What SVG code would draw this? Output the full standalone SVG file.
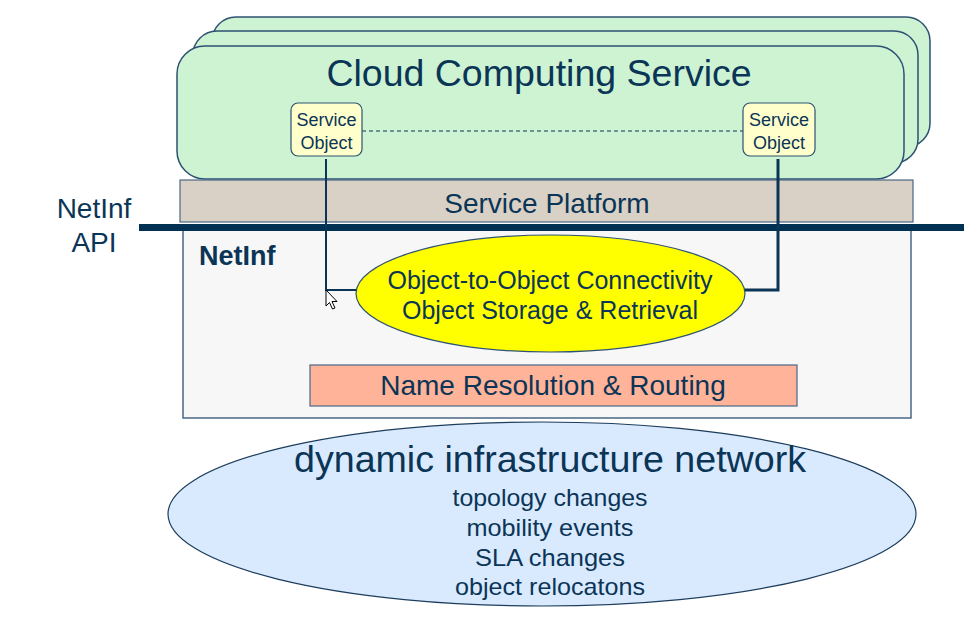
<svg xmlns="http://www.w3.org/2000/svg" width="968" height="626" viewBox="0 0 968 626">
<style>
text{font-family:"Liberation Sans",Arial,sans-serif;fill:#0b3556;text-anchor:middle}
.cloud{fill:#cdf3d3;stroke:#2e5273;stroke-width:1.5}
.so{fill:#ffffcc;stroke:#2e5273;stroke-width:1.2}
.conn{fill:none;stroke:#0b3556}
</style>
<rect width="968" height="626" fill="#ffffff"/>
<g id="cloud-stack">
<rect class="cloud" x="212" y="17" width="718" height="130" rx="24"/>
<rect class="cloud" x="193" y="31" width="725" height="132" rx="24"/>
<rect class="cloud" x="177" y="46" width="727" height="133" rx="28"/>
<text x="539" y="86" font-size="37.5">Cloud Computing Service</text>
</g>
<g id="service-platform">
<rect x="180" y="180" width="733" height="42" fill="#d9d1c5" stroke="#4a6785" stroke-width="1.2"/>
<text x="547" y="213" font-size="28">Service Platform</text>
</g>
<g id="netinf">
<rect x="183" y="228" width="728" height="190" fill="#f7f7f7" stroke="#4a6785" stroke-width="1.5"/>
<text x="199" y="265" font-size="27" font-weight="bold" style="text-anchor:start">NetInf</text>
</g>
<g id="api-line">
<line x1="139" y1="227.5" x2="964" y2="227.5" stroke="#003153" stroke-width="7"/>
<text x="94" y="218" font-size="28">NetInf</text>
<text x="94" y="252" font-size="28">API</text>
</g>
<g id="connectors">
<line x1="362" y1="131" x2="743" y2="131" stroke="#0b3556" stroke-width="1" stroke-dasharray="4,3"/>
<polyline class="conn" stroke-width="2" points="326,159 326,290 357,290"/>
<polyline class="conn" stroke-width="3" points="778,159 778,290 745,290"/>
</g>
<g id="service-object-left">
<rect class="so" x="291" y="103" width="71" height="53" rx="7"/>
<text x="326.5" y="126" font-size="18">Service</text>
<text x="326.5" y="149" font-size="18">Object</text>
</g>
<g id="service-object-right">
<rect class="so" x="743" y="103" width="72" height="53" rx="7"/>
<text x="779" y="126" font-size="18">Service</text>
<text x="779" y="149" font-size="18">Object</text>
</g>
<g id="object-connectivity">
<ellipse cx="550.5" cy="293.5" rx="194.5" ry="58.5" fill="#ffff00" stroke="#2e5273" stroke-width="1.2"/>
<text x="550" y="289" font-size="25">Object-to-Object Connectivity</text>
<text x="550" y="319" font-size="25">Object Storage &amp; Retrieval</text>
</g>
<g id="name-resolution">
<rect x="310" y="365" width="487" height="41" fill="#ffb399" stroke="#4a6785" stroke-width="1.2"/>
<text x="553" y="395" font-size="28">Name Resolution &amp; Routing</text>
</g>
<g id="dynamic-network">
<ellipse cx="542" cy="514" rx="374" ry="92" fill="#d9eaff" stroke="#1d3d5c" stroke-width="1.2"/>
<text x="550" y="472" font-size="36" textLength="512" lengthAdjust="spacingAndGlyphs">dynamic infrastructure network</text>
<text x="550" y="506" font-size="24" textLength="195" lengthAdjust="spacingAndGlyphs">topology changes</text>
<text x="550" y="536" font-size="24" textLength="167" lengthAdjust="spacingAndGlyphs">mobility events</text>
<text x="550" y="566" font-size="24" textLength="150" lengthAdjust="spacingAndGlyphs">SLA changes</text>
<text x="550" y="595" font-size="24" textLength="190" lengthAdjust="spacingAndGlyphs">object relocatons</text>
</g>
<g id="cursor">
<polygon points="326,290 326,306 329.5,302.5 332.5,309 335,308 332,301.5 337,301.5" fill="#ffffff" stroke="#000000" stroke-width="1"/>
</g>
</svg>
